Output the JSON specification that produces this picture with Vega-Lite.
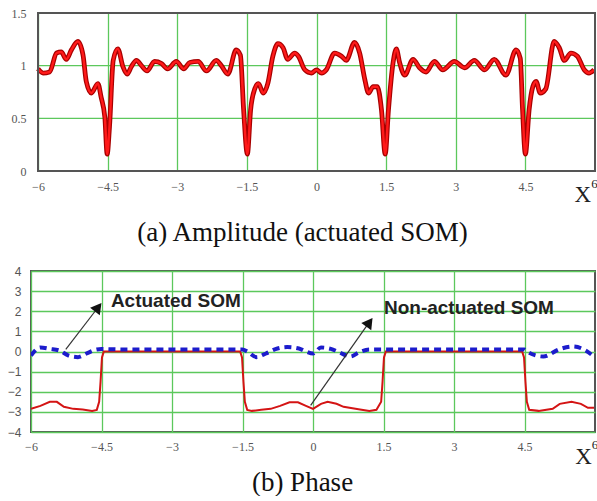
{
  "$schema": "https://vega.github.io/schema/vega-lite/v6.json",
  "padding": {"left": 6, "top": 7, "right": 0, "bottom": 0},
  "background": "white",
  "config": {
    "view": {"stroke": "#555", "strokeWidth": 2},
    "axis": {"labelFlush": false, "labelOverlap": false, "ticks": false, "domain": false, "grid": true, "gridColor": "#5cc85c", "gridWidth": 1.3, "labelColor": "#555", "tickCount": 30}
  },
  "datasets": {
    "one": [{}],
    "amp": [
      {"x": -6.00, "y": 0.97}, {"x": -5.89, "y": 0.93}, {"x": -5.75, "y": 0.94}, {"x": -5.60, "y": 1.12}, {"x": -5.50, "y": 1.13},
      {"x": -5.39, "y": 1.06}, {"x": -5.28, "y": 1.15}, {"x": -5.14, "y": 1.23}, {"x": -5.03, "y": 1.10}, {"x": -4.96, "y": 0.85},
      {"x": -4.85, "y": 0.74}, {"x": -4.71, "y": 0.83}, {"x": -4.64, "y": 0.70}, {"x": -4.56, "y": 0.51}, {"x": -4.51, "y": 0.16},
      {"x": -4.46, "y": 0.42}, {"x": -4.38, "y": 1.05}, {"x": -4.28, "y": 1.16}, {"x": -4.17, "y": 0.99}, {"x": -4.08, "y": 0.92},
      {"x": -3.99, "y": 0.99}, {"x": -3.88, "y": 1.05}, {"x": -3.77, "y": 1.00}, {"x": -3.65, "y": 0.95}, {"x": -3.49, "y": 1.04},
      {"x": -3.34, "y": 1.02}, {"x": -3.21, "y": 0.97}, {"x": -3.02, "y": 1.04}, {"x": -2.86, "y": 0.97}, {"x": -2.73, "y": 1.03},
      {"x": -2.55, "y": 1.04}, {"x": -2.37, "y": 0.95}, {"x": -2.16, "y": 1.05}, {"x": -2.05, "y": 1.00}, {"x": -1.91, "y": 0.92},
      {"x": -1.73, "y": 1.15}, {"x": -1.64, "y": 1.10}, {"x": -1.57, "y": 0.58}, {"x": -1.49, "y": 0.16}, {"x": -1.42, "y": 0.58},
      {"x": -1.33, "y": 0.78}, {"x": -1.25, "y": 0.83}, {"x": -1.15, "y": 0.74}, {"x": -1.05, "y": 0.83}, {"x": -0.94, "y": 1.09},
      {"x": -0.83, "y": 1.21}, {"x": -0.72, "y": 1.17}, {"x": -0.62, "y": 1.06}, {"x": -0.47, "y": 1.12}, {"x": -0.39, "y": 1.09},
      {"x": -0.25, "y": 0.96}, {"x": -0.11, "y": 0.93}, {"x": 0.00, "y": 0.96}, {"x": 0.11, "y": 0.93}, {"x": 0.21, "y": 0.96},
      {"x": 0.39, "y": 1.12}, {"x": 0.54, "y": 1.09}, {"x": 0.64, "y": 1.05}, {"x": 0.82, "y": 1.22}, {"x": 0.93, "y": 1.12},
      {"x": 1.04, "y": 0.87}, {"x": 1.12, "y": 0.74}, {"x": 1.22, "y": 0.80}, {"x": 1.31, "y": 0.80}, {"x": 1.40, "y": 0.58},
      {"x": 1.48, "y": 0.16}, {"x": 1.55, "y": 0.58}, {"x": 1.65, "y": 1.03}, {"x": 1.72, "y": 1.16}, {"x": 1.79, "y": 1.03},
      {"x": 1.90, "y": 0.91}, {"x": 2.08, "y": 1.06}, {"x": 2.22, "y": 0.98}, {"x": 2.36, "y": 0.94}, {"x": 2.54, "y": 1.04},
      {"x": 2.72, "y": 0.96}, {"x": 2.97, "y": 1.04}, {"x": 3.19, "y": 0.98}, {"x": 3.40, "y": 1.05}, {"x": 3.62, "y": 0.96},
      {"x": 3.83, "y": 1.06}, {"x": 4.08, "y": 0.91}, {"x": 4.30, "y": 1.15}, {"x": 4.39, "y": 1.07}, {"x": 4.44, "y": 0.58},
      {"x": 4.50, "y": 0.16}, {"x": 4.58, "y": 0.58}, {"x": 4.66, "y": 0.80}, {"x": 4.73, "y": 0.85}, {"x": 4.82, "y": 0.74},
      {"x": 4.94, "y": 0.78}, {"x": 5.12, "y": 1.23}, {"x": 5.23, "y": 1.17}, {"x": 5.34, "y": 1.05}, {"x": 5.48, "y": 1.12},
      {"x": 5.62, "y": 1.09}, {"x": 5.77, "y": 0.96}, {"x": 5.87, "y": 0.93}, {"x": 5.98, "y": 0.96}
    ],
    "actuated": [
      {"x": -6.0, "y": -0.2}, {"x": -5.8, "y": 0.2}, {"x": -5.6, "y": 0.13}, {"x": -5.4, "y": 0.05}, {"x": -5.2, "y": -0.2},
      {"x": -5.0, "y": -0.28}, {"x": -4.8, "y": -0.08}, {"x": -4.6, "y": 0.1}, {"x": -4.5, "y": 0.12}, {"x": -4.0, "y": 0.1},
      {"x": -3.5, "y": 0.1}, {"x": -3.0, "y": 0.1}, {"x": -2.5, "y": 0.1}, {"x": -2.0, "y": 0.1}, {"x": -1.5, "y": 0.1},
      {"x": -1.4, "y": 0.0}, {"x": -1.2, "y": -0.28}, {"x": -1.0, "y": -0.1}, {"x": -0.8, "y": 0.12}, {"x": -0.55, "y": 0.22},
      {"x": -0.3, "y": 0.15}, {"x": -0.15, "y": 0.0}, {"x": 0.0, "y": -0.1}, {"x": 0.17, "y": 0.2}, {"x": 0.38, "y": 0.13},
      {"x": 0.55, "y": -0.03}, {"x": 0.8, "y": -0.25}, {"x": 0.97, "y": -0.05}, {"x": 1.2, "y": 0.1}, {"x": 1.5, "y": 0.1},
      {"x": 2.0, "y": 0.1}, {"x": 2.5, "y": 0.1}, {"x": 3.0, "y": 0.1}, {"x": 3.5, "y": 0.1}, {"x": 4.0, "y": 0.1},
      {"x": 4.5, "y": 0.1}, {"x": 4.55, "y": 0.0}, {"x": 4.9, "y": -0.25}, {"x": 5.25, "y": 0.12}, {"x": 5.53, "y": 0.25},
      {"x": 5.8, "y": 0.05}, {"x": 5.95, "y": -0.2}
    ],
    "nonact": [
      {"x": -6.0, "y": -2.85}, {"x": -5.8, "y": -2.7}, {"x": -5.6, "y": -2.5}, {"x": -5.45, "y": -2.5}, {"x": -5.3, "y": -2.75},
      {"x": -5.1, "y": -2.85}, {"x": -4.9, "y": -2.88}, {"x": -4.7, "y": -2.95}, {"x": -4.6, "y": -2.9}, {"x": -4.55, "y": -2.5},
      {"x": -4.52, "y": -1.5}, {"x": -4.49, "y": -0.3}, {"x": -4.45, "y": 0.0}, {"x": -1.55, "y": 0.0}, {"x": -1.51, "y": -0.3},
      {"x": -1.48, "y": -1.5}, {"x": -1.45, "y": -2.5}, {"x": -1.4, "y": -2.9}, {"x": -1.3, "y": -2.95}, {"x": -1.1, "y": -2.9},
      {"x": -0.9, "y": -2.85}, {"x": -0.7, "y": -2.7}, {"x": -0.5, "y": -2.52}, {"x": -0.32, "y": -2.52}, {"x": -0.15, "y": -2.7},
      {"x": 0.0, "y": -2.85}, {"x": 0.17, "y": -2.6}, {"x": 0.31, "y": -2.5}, {"x": 0.5, "y": -2.6}, {"x": 0.65, "y": -2.75},
      {"x": 1.0, "y": -2.88}, {"x": 1.2, "y": -2.95}, {"x": 1.35, "y": -2.9}, {"x": 1.45, "y": -2.5}, {"x": 1.48, "y": -1.5},
      {"x": 1.51, "y": -0.3}, {"x": 1.55, "y": 0.0}, {"x": 4.45, "y": 0.0}, {"x": 4.49, "y": -0.3}, {"x": 4.52, "y": -1.5},
      {"x": 4.55, "y": -2.5}, {"x": 4.6, "y": -2.9}, {"x": 4.8, "y": -2.95}, {"x": 5.1, "y": -2.85}, {"x": 5.25, "y": -2.6},
      {"x": 5.5, "y": -2.5}, {"x": 5.7, "y": -2.6}, {"x": 5.85, "y": -2.8}, {"x": 5.98, "y": -2.8}
    ]
  },
  "columns": 1,
  "spacing": 19,
  "concat": [
    {
      "width": 564,
      "height": 158,
      "view": {"stroke": null},
      "layer": [
        {
          "data": {"values": [{"g": 0.5}, {"g": 1}]},
          "mark": {"type": "rule", "color": "#5cc85c", "strokeWidth": 1.3},
          "encoding": {"y": {"field": "g", "type": "quantitative"}, "x": {"datum": -6}, "x2": {"datum": 6}}
        },
        {
          "data": {"name": "amp"},
          "mark": {"type": "line", "stroke": "#a80000", "strokeWidth": 4.8, "clip": true, "interpolate": "monotone"},
          "encoding": {
            "x": {"field": "x", "type": "quantitative", "scale": {"domain": [-6.151, 6], "nice": false, "zero": false},
              "axis": {"values": [-6, -4.5, -3, -1.5, 0, 1.5, 3, 4.5], "tickCount": 30, "format": ".1~f", "labelFont": "Liberation Serif", "labelFontSize": 12, "labelPadding": 10,
                "title": "(a) Amplitude (actuated SOM)", "titleFont": "Liberation Serif", "titleFontSize": 27, "titleFontWeight": "normal", "titleColor": "#111",
                "titleX": 271, "titleY": 69, "titleBaseline": "alphabetic", "titleAlign": "center"}},
            "y": {"field": "y", "type": "quantitative", "scale": {"domain": [0, 1.5], "nice": false, "zero": false},
              "axis": {"values": [0, 0.5, 1, 1.5], "tickCount": 30, "grid": false, "format": "~g", "labelFont": "Liberation Serif", "labelFontSize": 12, "labelPadding": 5, "title": null}}
          }
        },
        {
          "data": {"name": "amp"},
          "mark": {"type": "line", "stroke": "#ff1a1a", "strokeWidth": 2.4, "clip": true, "interpolate": "monotone"},
          "encoding": {"x": {"field": "x", "type": "quantitative"}, "y": {"field": "y", "type": "quantitative"}}
        },
        {
          "data": {"name": "one"},
          "mark": {"type": "rect", "fill": null, "fillOpacity": 0, "stroke": "#555", "strokeWidth": 2},
          "encoding": {"x": {"datum": -6}, "x2": {"datum": 6}, "y": {"datum": 0}, "y2": {"datum": 1.5}}
        },
        {
          "data": {"name": "one"},
          "mark": {"type": "text", "text": "X", "font": "Liberation Serif", "fontSize": 23, "align": "center", "baseline": "alphabetic", "color": "#222"},
          "encoding": {"x": {"datum": 5.74}, "y": {"datum": -0.29}}
        },
        {
          "data": {"name": "one"},
          "mark": {"type": "text", "text": "6", "font": "Liberation Serif", "fontSize": 13, "align": "left", "baseline": "alphabetic", "color": "#222"},
          "encoding": {"x": {"datum": 5.92}, "y": {"datum": -0.16}}
        }
      ]
    },
    {
      "width": 564,
      "height": 161,
      "layer": [
        {
          "data": {"name": "nonact"},
          "mark": {"type": "line", "stroke": "#d41414", "strokeWidth": 2, "clip": true},
          "encoding": {
            "x": {"field": "x", "type": "quantitative", "scale": {"domain": [-6, 6], "nice": false, "zero": false},
              "axis": {"values": [-6, -4.5, -3, -1.5, 0, 1.5, 3, 4.5], "tickCount": 30, "format": ".1~f", "labelFont": "Liberation Serif", "labelFontSize": 12, "labelPadding": 9,
                "title": "(b) Phase", "titleFont": "Liberation Serif", "titleFontSize": 27, "titleFontWeight": "normal", "titleColor": "#111",
                "titleX": 271, "titleY": 58, "titleBaseline": "alphabetic", "titleAlign": "center"}},
            "y": {"field": "y", "type": "quantitative", "scale": {"domain": [-4, 4], "nice": false, "zero": false},
              "axis": {"values": [-4, -3, -2, -1, 0, 1, 2, 3, 4], "tickCount": 30, "format": "~g", "labelFont": "Liberation Sans", "labelFontSize": 12, "labelPadding": 10, "title": null}}
          }
        },
        {
          "data": {"name": "actuated"},
          "mark": {"type": "line", "stroke": "#1c1ccc", "strokeWidth": 4, "strokeDash": [7, 5], "clip": true, "interpolate": "monotone"},
          "encoding": {"x": {"field": "x", "type": "quantitative"}, "y": {"field": "y", "type": "quantitative"}}
        },
        {
          "data": {"name": "one"},
          "mark": {"type": "rule", "color": "#333", "strokeWidth": 1.2},
          "encoding": {"x": {"datum": -5.26}, "y": {"datum": 0.1}, "x2": {"datum": -4.62}, "y2": {"datum": 2.05}}
        },
        {
          "data": {"name": "one"},
          "mark": {"type": "point", "shape": "triangle-up", "filled": true, "color": "#111", "opacity": 1, "size": 150, "angle": 38},
          "encoding": {"x": {"datum": -4.57}, "y": {"datum": 2.2}}
        },
        {
          "data": {"name": "one"},
          "mark": {"type": "rule", "color": "#333", "strokeWidth": 1.2},
          "encoding": {"x": {"datum": -0.05}, "y": {"datum": -2.68}, "x2": {"datum": 1.15}, "y2": {"datum": 1.3}}
        },
        {
          "data": {"name": "one"},
          "mark": {"type": "point", "shape": "triangle-up", "filled": true, "color": "#111", "opacity": 1, "size": 150, "angle": 36},
          "encoding": {"x": {"datum": 1.2}, "y": {"datum": 1.45}}
        },
        {
          "data": {"name": "one"},
          "mark": {"type": "text", "text": "Actuated SOM", "font": "Liberation Sans", "fontWeight": "bold", "fontSize": 19, "align": "left", "baseline": "middle", "color": "#222"},
          "encoding": {"x": {"datum": -4.3}, "y": {"datum": 2.5}}
        },
        {
          "data": {"name": "one"},
          "mark": {"type": "text", "text": "Non-actuated SOM", "font": "Liberation Sans", "fontWeight": "bold", "fontSize": 19, "align": "left", "baseline": "middle", "color": "#222"},
          "encoding": {"x": {"datum": 1.51}, "y": {"datum": 2.15}}
        },
        {
          "data": {"name": "one"},
          "mark": {"type": "text", "text": "X", "font": "Liberation Serif", "fontSize": 23, "align": "center", "baseline": "alphabetic", "color": "#222"},
          "encoding": {"x": {"datum": 5.755}, "y": {"datum": -5.57}}
        },
        {
          "data": {"name": "one"},
          "mark": {"type": "text", "text": "6", "font": "Liberation Serif", "fontSize": 13, "align": "left", "baseline": "alphabetic", "color": "#222"},
          "encoding": {"x": {"datum": 5.93}, "y": {"datum": -4.82}}
        }
      ]
    }
  ]
}
